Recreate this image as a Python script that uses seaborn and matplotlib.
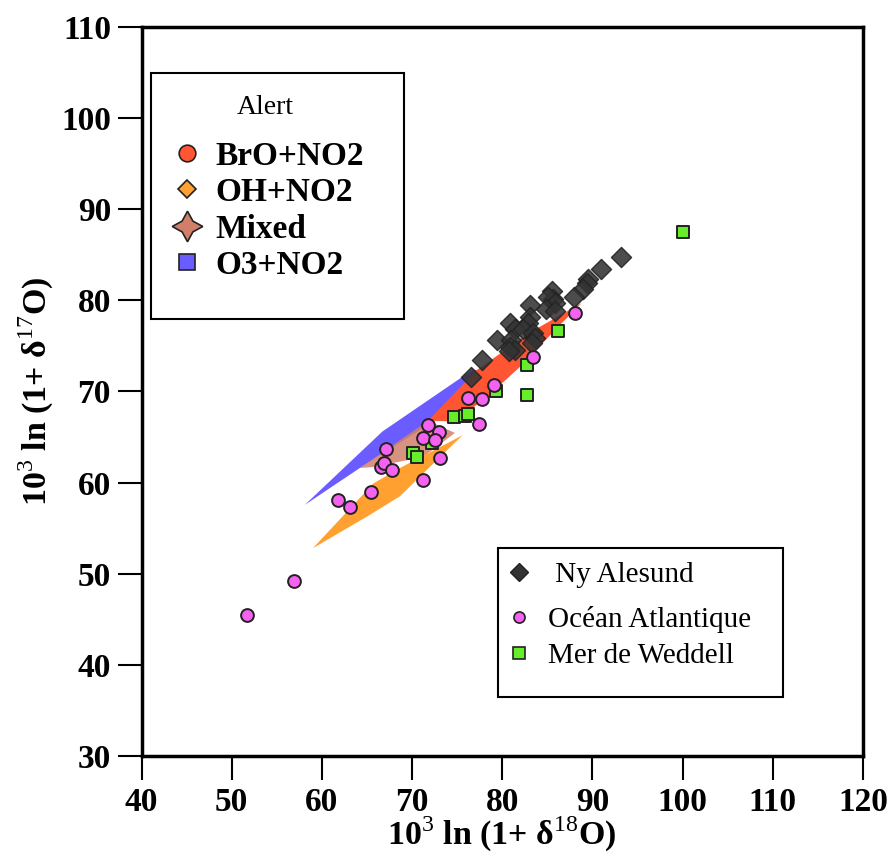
import matplotlib
matplotlib.use("Agg")
import matplotlib.pyplot as plt
import seaborn as sns
import pandas as pd
from matplotlib.lines import Line2D
from matplotlib.patches import Rectangle

# ---------------- data ----------------
ny_x = [93.2, 90.9, 89.5, 89.4, 89.0, 88.0, 85.5, 85.65, 85.1, 85.8, 84.9, 85.8,
        83.1, 83.1, 82.9, 80.85, 81.4, 82.3, 83.4, 83.6, 83.3, 79.4, 81.0, 80.85,
        81.4, 80.7, 77.7, 76.5]
ny_y = [84.8, 83.4, 82.4, 81.9, 81.2, 80.4, 81.0, 80.2, 80.4, 79.7, 79.0, 78.8,
        79.5, 78.2, 77.5, 77.5, 76.9, 76.9, 76.4, 75.85, 75.3, 75.7, 75.7, 74.9,
        74.6, 74.4, 73.5, 71.6]

oa_x = [51.7, 56.9, 61.8, 63.1, 65.4, 66.6, 66.9, 67.8, 67.1, 71.2, 73.1, 71.2,
        71.8, 73.0, 72.5, 77.45, 76.2, 77.8, 79.1, 83.4, 88.1]
oa_y = [45.5, 49.2, 58.1, 57.3, 59.0, 61.75, 62.2, 61.35, 63.7, 60.3, 62.75, 64.9,
        66.3, 65.6, 64.7, 66.4, 69.25, 69.2, 70.7, 73.8, 78.6]

mw_x = [100.0, 82.7, 82.7, 79.3, 74.7, 75.9, 76.2, 72.2, 70.1, 70.6, 86.2]
mw_y = [87.5, 72.9, 69.6, 70.0, 67.2, 67.3, 67.5, 64.3, 63.3, 62.85, 76.6]

# envelopes of the "Alert" model regions
o3_x = [58.1, 66.7, 76.75, 77.3, 70.9, 64.2]
o3_y = [57.55, 65.6, 72.4, 72.3, 65.8, 61.6]
bro_x = [71.8, 77.1, 83.1, 88.8, 86.0, 82.3, 78.3, 74.75]
bro_y = [66.8, 72.3, 76.5, 79.7, 76.9, 73.0, 69.4, 66.7]
mix_x = [64.2, 71.8, 74.75, 71.2, 65.5]
mix_y = [61.6, 66.8, 65.45, 62.8, 61.7]
oh_x = [59.0, 65.7, 68.65, 75.6, 72.0, 68.65, 65.3]
oh_y = [52.8, 59.9, 61.6, 65.2, 61.75, 58.5, 56.45]

alert_labels = ["BrO+NO2", "OH+NO2", "Mixed", "O3+NO2"]
site_labels = ["Ny Alesund", "Océan Atlantique", "Mer de Weddell"]
x_ticks = [40, 50, 60, 70, 80, 90, 100, 110, 120]
y_ticks = [30, 40, 50, 60, 70, 80, 90, 100, 110]

# ---------------- style ----------------
sns.set_style("ticks")
plt.rcParams["font.family"] = ["Liberation Serif", "DejaVu Serif"]
plt.rcParams["mathtext.fontset"] = "custom"
plt.rcParams["mathtext.rm"] = "Liberation Serif"
plt.rcParams["mathtext.bf"] = "Liberation Serif:bold"
for k in ["text.color", "axes.labelcolor", "xtick.color", "ytick.color", "axes.edgecolor"]:
    plt.rcParams[k] = "black"

c_red = "#FF5533"
c_orange = "#FFA030"
c_mixed = "#D27F6A"
c_blue = "#6B5CFF"
c_pink = "#F562F0"
c_green = "#66EE2A"
c_black = "#333333"

W, H = 891, 855
fig = plt.figure(figsize=(W / 100, H / 100), dpi=100)
ax = fig.add_axes([141.5 / W, 1 - 756 / H, (863 - 141.5) / W, (756 - 27) / H])

ax.fill(o3_x, o3_y, color=c_blue, lw=0, zorder=1)
ax.fill(bro_x, bro_y, color=c_red, lw=0, zorder=1.1)
ax.fill(mix_x, mix_y, color=c_mixed, alpha=0.85, lw=0, zorder=1.2)
ax.fill(oh_x, oh_y, color=c_orange, lw=0, zorder=1.3)

df_ny = pd.DataFrame({"x": ny_x, "y": ny_y})
df_oa = pd.DataFrame({"x": oa_x, "y": oa_y})
df_mw = pd.DataFrame({"x": mw_x, "y": mw_y})

sns.scatterplot(data=df_ny, x="x", y="y", marker="D", s=105, color=c_black,
                edgecolor="#222222", linewidth=1.0, alpha=0.88, ax=ax, zorder=3, legend=False)
sns.scatterplot(data=df_mw, x="x", y="y", marker="s", s=72, color=c_green,
                edgecolor="#222222", linewidth=1.4, ax=ax, zorder=4, legend=False)
sns.scatterplot(data=df_oa, x="x", y="y", marker="o", s=85, color=c_pink,
                edgecolor="#222222", linewidth=1.4, ax=ax, zorder=5, legend=False)

ax.set_xlim(40, 120)
ax.set_ylim(30, 110)
ax.set_xticks(x_ticks)
ax.set_yticks(y_ticks)
ax.set_xticklabels([str(t) for t in x_ticks], fontweight="bold", fontsize=24)
ax.set_yticklabels([str(t) for t in y_ticks], fontweight="bold", fontsize=24)
ax.tick_params(axis="both", direction="out", length=17, width=1.5, pad=5, color="black")
for sp in ax.spines.values():
    sp.set_linewidth(2.5)
    sp.set_color("black")

ax.set_xlabel(r"10$^3$ ln (1+ δ$^{18}$O)", fontsize=24.5, fontweight="bold", labelpad=-2)
ax.set_ylabel(r"10$^3$ ln (1+ δ$^{17}$O)", fontsize=24.5, fontweight="bold", labelpad=4)

# legend 1: Alert (frame drawn as a rectangle)
ax.add_patch(Rectangle((151 / W, 1 - 319 / H), (404 - 151) / W, (319 - 73) / H,
                       transform=fig.transFigure, facecolor="white", edgecolor="black",
                       lw=1.5, zorder=10, clip_on=False))
h1 = [
    Line2D([], [], ls="", marker="o", ms=12, mfc=c_red, mec="#222222", mew=1.2),
    Line2D([], [], ls="", marker="D", ms=9, mfc=c_orange, mec="#222222", mew=1.2),
    Line2D([], [], ls="", marker=(4, 1, 0), ms=22, mfc=c_mixed, mec="#222222", mew=1.2),
    Line2D([], [], ls="", marker="s", ms=11, mfc=c_blue, mec="#222222", mew=1.2),
]
leg1 = ax.legend(h1, alert_labels, title="Alert", loc="upper left",
                 bbox_to_anchor=(167 / W, 1 - 95 / H), bbox_transform=fig.transFigure,
                 prop={"weight": "bold", "size": 24}, title_fontsize=20,
                 frameon=False, borderpad=0, labelspacing=0.16, handletextpad=0.24,
                 handlelength=1.2, borderaxespad=0)
leg1._legend_box.sep = 15
leg1.set_zorder(11)
ax.add_artist(leg1)

# legend 2: sites
ax.add_patch(Rectangle((498 / W, 1 - 697 / H), (783 - 498) / W, (697 - 548) / H,
                       transform=fig.transFigure, facecolor="white", edgecolor="black",
                       lw=1.5, zorder=10, clip_on=False))
h2a = [Line2D([], [], ls="", marker="D", ms=9, mfc=c_black, mec="#222222", mew=1.0)]
h2b = [
    Line2D([], [], ls="", marker="o", ms=8, mfc=c_pink, mec="#222222", mew=1.2),
    Line2D([], [], ls="", marker="s", ms=8, mfc=c_green, mec="#222222", mew=1.2),
]
leg2a = ax.legend(h2a, [" " + site_labels[0]], loc="center left",
                  bbox_to_anchor=(504.5 / W, 1 - 575 / H), bbox_transform=fig.transFigure,
                  prop={"size": 21}, frameon=False, borderpad=0, handletextpad=0.5,
                  handlelength=1.0, borderaxespad=0)
leg2a.set_zorder(11)
ax.add_artist(leg2a)
leg2b = ax.legend(h2b, site_labels[1:], loc="center left",
                  bbox_to_anchor=(504.5 / W, 1 - 637.5 / H), bbox_transform=fig.transFigure,
                  prop={"size": 21}, frameon=False, borderpad=0, labelspacing=0.32,
                  handletextpad=0.5, handlelength=1.0, borderaxespad=0)
leg2b.set_zorder(11)

fig.savefig("out.png", dpi=100)
